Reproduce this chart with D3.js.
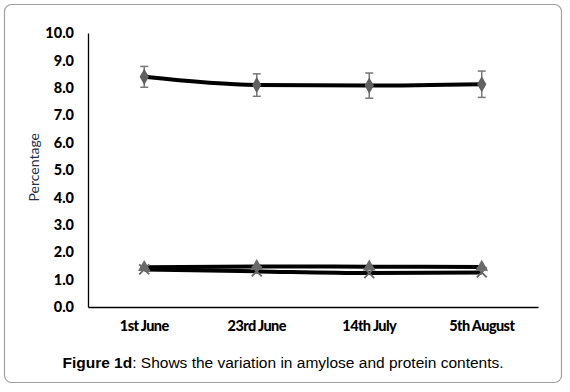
<!DOCTYPE html>
<html>
<head>
<meta charset="utf-8">
<script src="https://cdn.jsdelivr.net/npm/d3@7"></script>
<style>
  body { margin: 0; background: #fff; }
</style>
</head>
<body>
<div id="chart"></div>
<script>
// chart data
const dates = ["1st June", "23rd June", "14th July", "5th August"];
const amylose = [8.4, 8.1, 8.08, 8.13];
const amyloseErr = [0.38, 0.41, 0.46, 0.48];
const proteinA = [1.45, 1.48, 1.47, 1.46];
const proteinB = [1.37, 1.3, 1.24, 1.26];
const yTicks = [0, 1, 2, 3, 4, 5, 6, 7, 8, 9, 10];

const W = 570, H = 392;
const margin = {top: 33, right: 32, bottom: 85, left: 88},
    width = W - margin.left - margin.right,
    height = H - margin.top - margin.bottom;

const root = d3.select("#chart").append("svg")
    .attr("width", W)
    .attr("height", H);

// rounded frame
root.append("rect")
    .attr("x", 4.5).attr("y", 4.5)
    .attr("width", 557).attr("height", 378)
    .attr("rx", 7)
    .attr("fill", "#fff")
    .attr("stroke", "#a0a0a0")
    .attr("stroke-width", 1.2);

const svg = root.append("g")
    .attr("transform", "translate(" + margin.left + "," + margin.top + ")");

const x = d3.scaleBand().domain(dates).range([0, width]);
const y = d3.scaleLinear().domain([0, 10]).range([height, 0]);

// axes
const yAxis = svg.append("g")
    .call(d3.axisLeft(y).tickValues(yTicks).tickFormat(d3.format(".1f")).tickSize(0).tickPadding(14));
yAxis.select(".domain").attr("stroke", "#000").attr("stroke-width", 1.3);
yAxis.selectAll("text")
    .style("font-family", "Lato, 'Open Sans', sans-serif")
    .style("font-weight", "900")
    .style("font-size", "14.5px")
    .attr("fill", "#000");

const xAxis = svg.append("g")
    .attr("transform", "translate(0," + height + ")")
    .call(d3.axisBottom(x).tickSize(0).tickPadding(14));
xAxis.select(".domain").attr("stroke", "#000").attr("stroke-width", 1.3);
xAxis.selectAll("text")
    .style("font-family", "Lato, 'Open Sans', sans-serif")
    .style("font-weight", "900")
    .style("font-size", "14.5px")
    .style("letter-spacing", "-0.6px")
    .attr("fill", "#000");

// y title
svg.append("text")
    .attr("transform", "translate(" + (35 - margin.left) + "," + y(5.1) + ") rotate(-90)")
    .attr("text-anchor", "middle")
    .attr("dominant-baseline", "middle")
    .style("font-family", "Lato, 'Open Sans', sans-serif")
    .style("font-size", "14px")
    .attr("fill", "#1f2f4f")
    .text("Percentage");

const cx = d => x(d) + x.bandwidth() / 2;
const line = d3.line().x(d => cx(d.k)).y(d => y(d.v)).curve(d3.curveMonotoneX);
const pts = vals => dates.map((k, i) => ({k: k, v: vals[i], i: i}));

[proteinB, proteinA, amylose].forEach(vals => {
    svg.append("path")
        .datum(pts(vals))
        .attr("d", line)
        .attr("fill", "none")
        .attr("stroke", "#000")
        .attr("stroke-width", 4);
});

// error bars on amylose
const eb = svg.append("g").attr("stroke", "#777").attr("stroke-width", 1.5);
pts(amylose).forEach(d => {
    const top = y(d.v + amyloseErr[d.i]), bot = y(d.v - amyloseErr[d.i]);
    eb.append("line").attr("x1", cx(d.k)).attr("x2", cx(d.k)).attr("y1", top).attr("y2", bot);
    eb.append("line").attr("x1", cx(d.k) - 4).attr("x2", cx(d.k) + 4).attr("y1", top).attr("y2", top);
    eb.append("line").attr("x1", cx(d.k) - 4).attr("x2", cx(d.k) + 4).attr("y1", bot).attr("y2", bot);
});

// markers
svg.selectAll(".mDia").data(pts(amylose)).join("path")
    .attr("transform", d => "translate(" + cx(d.k) + "," + y(d.v) + ")")
    .attr("d", d3.symbol(d3.symbolDiamond, 75))
    .attr("fill", "#606060");

svg.selectAll(".mX").data(pts(proteinB)).join("path")
    .attr("transform", d => "translate(" + cx(d.k) + "," + y(d.v) + ")")
    .attr("d", "M-5,-5L5,5M-5,5L5,-5")
    .attr("stroke", "#666")
    .attr("stroke-width", 1.8);

svg.selectAll(".mTri").data(pts(proteinA)).join("path")
    .attr("transform", d => "translate(" + cx(d.k) + "," + y(d.v) + ")")
    .attr("d", d3.symbol(d3.symbolTriangle, 70))
    .attr("fill", "#6a6a6a");

// caption
const cap = root.append("text")
    .attr("x", 283)
    .attr("y", 368)
    .attr("text-anchor", "middle")
    .style("font-family", "'Liberation Sans', Arial, sans-serif")
    .style("font-size", "15.5px")
    .attr("fill", "#000");
cap.append("tspan").style("font-weight", "bold").text("Figure 1d");
cap.append("tspan").text(": Shows the variation in amylose and protein contents.");
</script>
</body>
</html>
